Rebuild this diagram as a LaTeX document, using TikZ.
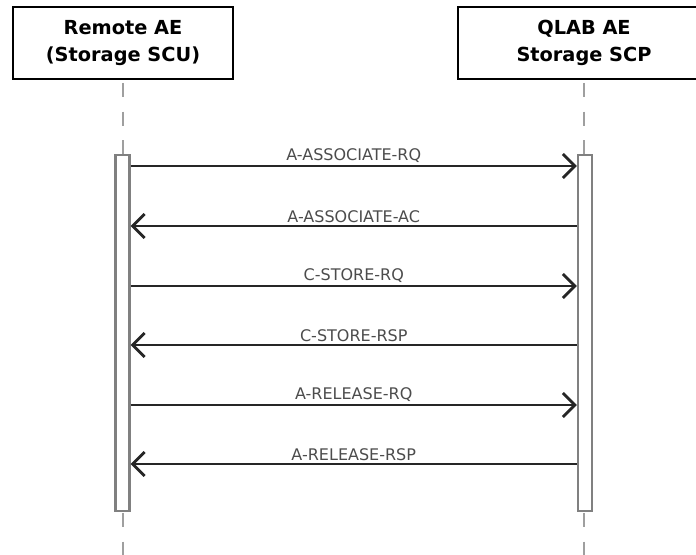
\documentclass[tikz,border=0pt]{standalone}
\usepackage{fontspec}
\setmainfont{DejaVu Sans}
\usetikzlibrary{arrows.meta}

\tikzset{
  actor/.style={draw=black, line width=2.2pt, fill=white, minimum width=165pt,
    minimum height=54pt, align=center, font=\bfseries\fontsize{14.5}{20}\selectfont},
  lifeline/.style={draw=gray!75, line width=1.5pt, dash pattern=on 10.5pt off 11pt},
  activation/.style={draw=gray, line width=1.6pt, fill=white, inner sep=0pt,
    minimum width=10.5pt, minimum height=267pt},
  msg/.style={line width=2.1pt, draw=black!85, -{Straight Barb[length=9pt,width=18pt]}},
  msglabel/.style={above, inner sep=1.5pt, text=black!70, font=\fontsize{12}{14}\selectfont}
}

\begin{document}
\begin{tikzpicture}[x=0.75pt, y=-0.75pt]
    \useasboundingbox (0,0) rectangle (696,555);
    \clip (0,0) rectangle (696,555);
    % Draw the two participants
    \node[actor] (remote) at (123,43) {Remote AE\\(Storage SCU)};
    \node[actor, minimum width=189pt] (qlab) at (584,43) {QLAB AE\\Storage SCP};
    % Draw the lifelines
    \coordinate (remotetop) at (123,83);
    \coordinate (remotebot) at (123,560);
    \coordinate (qlabtop) at (584,83);
    \coordinate (qlabbot) at (584,560);
    \draw[lifeline] (remotetop) -- (remotebot);
    \draw[lifeline] (qlabtop) -- (qlabbot);
    % Draw the activation bars
    \node[activation] (remotebar) at (122.5,333) {};
    \node[activation] (qlabbar) at (585,333) {};
    % Requests from the SCU
    \foreach \y/\txt in {166/A-ASSOCIATE-RQ, 286/C-STORE-RQ, 405/A-RELEASE-RQ}
        \draw[msg] (remotebar.east |- 0,\y) -- node[msglabel] {\txt} (qlabbar.west |- 0,\y);
    % Responses from the SCP
    \foreach \y/\txt in {226/A-ASSOCIATE-AC, 345/C-STORE-RSP, 464/A-RELEASE-RSP}
        \draw[msg] (qlabbar.west |- 0,\y) -- node[msglabel] {\txt} (remotebar.east |- 0,\y);
\end{tikzpicture}
\end{document}
